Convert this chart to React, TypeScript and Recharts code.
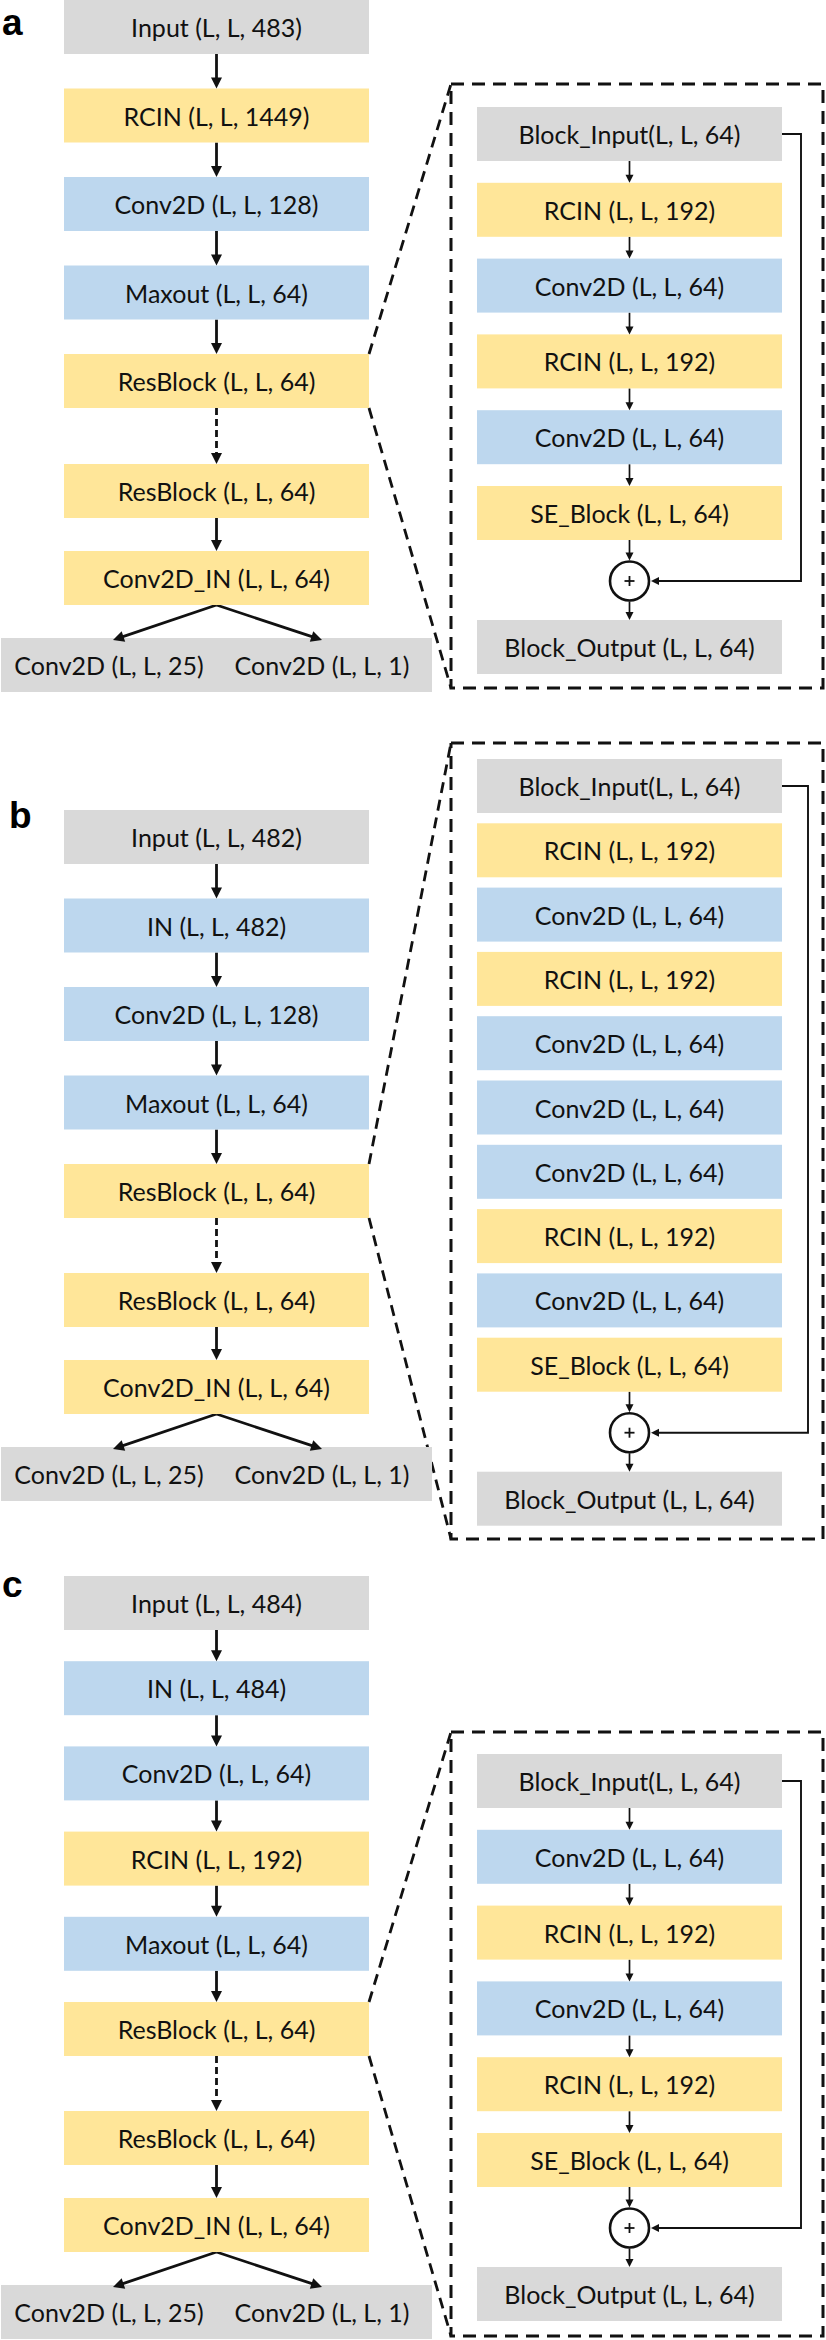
import { ComposedChart, XAxis, YAxis, Scatter, Line } from "recharts"

// layer labels, top to bottom
const panelNames = ["a", "b", "c"]

const trunkA = ["Input (L, L, 483)", "RCIN (L, L, 1449)", "Conv2D (L, L, 128)", "Maxout (L, L, 64)", "ResBlock (L, L, 64)", "ResBlock (L, L, 64)", "Conv2D_IN (L, L, 64)"]
const trunkB = ["Input (L, L, 482)", "IN (L, L, 482)", "Conv2D (L, L, 128)", "Maxout (L, L, 64)", "ResBlock (L, L, 64)", "ResBlock (L, L, 64)", "Conv2D_IN (L, L, 64)"]
const trunkC = ["Input (L, L, 484)", "IN (L, L, 484)", "Conv2D (L, L, 64)", "RCIN (L, L, 192)", "Maxout (L, L, 64)", "ResBlock (L, L, 64)", "ResBlock (L, L, 64)", "Conv2D_IN (L, L, 64)"]
const headLabels = ["Conv2D (L, L, 25)", "Conv2D (L, L, 1)"]

const blockA = ["Block_Input(L, L, 64)", "RCIN (L, L, 192)", "Conv2D (L, L, 64)", "RCIN (L, L, 192)", "Conv2D (L, L, 64)", "SE_Block (L, L, 64)"]
const blockB = ["Block_Input(L, L, 64)", "RCIN (L, L, 192)", "Conv2D (L, L, 64)", "RCIN (L, L, 192)", "Conv2D (L, L, 64)", "Conv2D (L, L, 64)", "Conv2D (L, L, 64)", "RCIN (L, L, 192)", "Conv2D (L, L, 64)", "SE_Block (L, L, 64)"]
const blockC = ["Block_Input(L, L, 64)", "Conv2D (L, L, 64)", "RCIN (L, L, 192)", "Conv2D (L, L, 64)", "RCIN (L, L, 192)", "SE_Block (L, L, 64)"]
const blockOutput = "Block_Output (L, L, 64)"

const trunks = [trunkA, trunkB, trunkC]
const blocks = [blockA, blockB, blockC]

// page layout (pixels)
const W = 826
const H = 2340
const BOX_W = 305
const BOX_H = 54
const TRUNK_X = 216.5
const INSET_X = 629.5
const FRAME_L = 451
const FRAME_R = 823

const layout = [
  { top: 0, pitch: 88.5, gap: 110, labelX: 2, labelY: 35, frameTop: 84, frameBottom: 688, blockTop: 107, blockPitch: 75.8, blockArrows: true, skipX: 801 },
  { top: 810, pitch: 88.5, gap: 109, labelX: 9, labelY: 828, frameTop: 743, frameBottom: 1539, blockTop: 759, blockPitch: 64.3, blockArrows: false, skipX: 808 },
  { top: 1576, pitch: 85.2, gap: 109, labelX: 2, labelY: 1597, frameTop: 1732, frameBottom: 2336, blockTop: 1754, blockPitch: 75.8, blockArrows: true, skipX: 801 },
]

const GREY = "#d9d9d9"
const YELLOW = "#ffe699"
const BLUE = "#bdd7ee"
const INK = "#111111"

const colorOf = (label: string) => {
  if (label.startsWith("Input") || label.startsWith("Block_")) return GREY
  if (/^(RCIN|ResBlock|Conv2D_IN|SE_Block)/.test(label)) return YELLOW
  return BLUE
}

type Pt = { x: number; y: number }
const boxes: any[] = []
const texts: any[] = []
const arrowHeads: any[] = []
const circles: any[] = []
const paths: { pts: Pt[]; width: number; dash?: string }[] = []

const arrow = (x1: number, y1: number, x2: number, y2: number, width: number, len: number, dash?: string) => {
  const d = Math.hypot(x2 - x1, y2 - y1)
  const ux = (x2 - x1) / d
  const uy = (y2 - y1) / d
  paths.push({ pts: [{ x: x1, y: y1 }, { x: x2 - ux * len * 0.6, y: y2 - uy * len * 0.6 }], width, dash })
  arrowHeads.push({ x: x2, y: y2, angle: (Math.atan2(uy, ux) * 180) / Math.PI, len, half: len / 2 })
}

trunks.forEach((trunk, p) => {
  const L = layout[p]
  const resIdx = trunk.indexOf("ResBlock (L, L, 64)")
  const tops: number[] = []
  trunk.forEach((label, i) => {
    if (i === 0) tops.push(L.top)
    else if (i - 1 < resIdx) tops.push(tops[i - 1] + L.pitch)
    else if (i - 1 === resIdx) tops.push(tops[i - 1] + L.gap)
    else tops.push(tops[i - 1] + 87)
    boxes.push({ x: TRUNK_X, y: tops[i] + BOX_H / 2, w: BOX_W, h: BOX_H, fill: colorOf(label), label })
  })
  for (let i = 0; i < trunk.length - 1; i++) {
    arrow(TRUNK_X, tops[i] + BOX_H, TRUNK_X, tops[i + 1], 2.8, 11, i === resIdx ? "7 4" : undefined)
  }
  const last = tops[tops.length - 1] + BOX_H
  const headTop = tops[tops.length - 1] + 87
  boxes.push({ x: 216.5, y: headTop + BOX_H / 2, w: 431, h: BOX_H, fill: GREY, label: "" })
  texts.push({ x: 109, y: headTop + BOX_H / 2, label: headLabels[0], kind: "layer" })
  texts.push({ x: 322, y: headTop + BOX_H / 2, label: headLabels[1], kind: "layer" })
  arrow(TRUNK_X, last, 113, headTop + 2, 2.8, 11)
  arrow(TRUNK_X, last, 322, headTop + 2, 2.8, 11)

  texts.push({ x: L.labelX, y: L.labelY, label: panelNames[p], kind: "panel" })

  // zoom-in frame for the residual block
  const resTop = tops[resIdx]
  paths.push({ pts: [{ x: 369, y: resTop }, { x: FRAME_L, y: L.frameTop }], width: 2.8, dash: "11 7" })
  paths.push({ pts: [{ x: 369, y: resTop + BOX_H }, { x: FRAME_L, y: L.frameBottom }], width: 2.8, dash: "11 7" })
  paths.push({
    pts: [
      { x: FRAME_L, y: L.frameTop }, { x: FRAME_R, y: L.frameTop }, { x: FRAME_R, y: L.frameBottom },
      { x: FRAME_L, y: L.frameBottom }, { x: FRAME_L, y: L.frameTop },
    ],
    width: 3,
    dash: "13 8",
  })

  const block = blocks[p]
  const bTops = block.map((_, i) => L.blockTop + i * L.blockPitch)
  block.forEach((label, i) => {
    boxes.push({ x: INSET_X, y: bTops[i] + BOX_H / 2, w: BOX_W, h: BOX_H, fill: colorOf(label), label })
    if (L.blockArrows && i > 0) arrow(INSET_X, bTops[i - 1] + BOX_H, INSET_X, bTops[i], 1.7, 8)
  })
  const bLast = bTops[bTops.length - 1] + BOX_H
  const cy = bLast + 41
  const outTop = bLast + 80
  circles.push({ x: INSET_X, y: cy })
  boxes.push({ x: INSET_X, y: outTop + BOX_H / 2, w: BOX_W, h: BOX_H, fill: GREY, label: blockOutput })
  arrow(INSET_X, bLast, INSET_X, cy - 20.5, 1.7, 8)
  arrow(INSET_X, cy + 20.5, INSET_X, outTop, 1.7, 8)
  const inCy = L.blockTop + BOX_H / 2
  paths.push({ pts: [{ x: 782, y: inCy }, { x: L.skipX, y: inCy }, { x: L.skipX, y: cy }, { x: 656, y: cy }], width: 1.9 })
  arrowHeads.push({ x: 651, y: cy, angle: 180, len: 8, half: 4 })
})

const BoxShape = (props: any) => {
  const { cx, cy, payload } = props
  return (
    <g>
      <rect x={cx - payload.w / 2} y={cy - payload.h / 2} width={payload.w} height={payload.h} fill={payload.fill} />
      {payload.label ? (
        <text x={cx} y={cy} textAnchor="middle" dominantBaseline="central" fontFamily="Lato" fontSize={25} fill={INK}>
          {payload.label}
        </text>
      ) : null}
    </g>
  )
}

const TextShape = (props: any) => {
  const { cx, cy, payload } = props
  if (payload.kind === "panel") {
    return (
      <text x={cx} y={cy} fontFamily="Liberation Sans" fontWeight="bold" fontSize={37} fill="#000">
        {payload.label}
      </text>
    )
  }
  return (
    <text x={cx} y={cy} textAnchor="middle" dominantBaseline="central" fontFamily="Lato" fontSize={25} fill={INK}>
      {payload.label}
    </text>
  )
}

const HeadShape = (props: any) => {
  const { cx, cy, payload } = props
  return (
    <polygon
      points={`0,0 ${-payload.len},${-payload.half} ${-payload.len},${payload.half}`}
      transform={`translate(${cx},${cy}) rotate(${payload.angle})`}
      fill={INK}
    />
  )
}

const SumShape = (props: any) => {
  const { cx, cy } = props
  return (
    <g>
      <circle cx={cx} cy={cy} r={19.5} fill="#fff" stroke={INK} strokeWidth={2.6} />
      <line x1={cx - 5} y1={cy} x2={cx + 5} y2={cy} stroke={INK} strokeWidth={1.8} />
      <line x1={cx} y1={cy - 5} x2={cx} y2={cy + 5} stroke={INK} strokeWidth={1.8} />
    </g>
  )
}

export default function App() {
  return (
    <div style={{ position: "absolute", left: 0, top: 0, width: W, height: H, background: "#fff" }}>
      <ComposedChart width={W} height={H} margin={{ top: 0, right: 0, bottom: 0, left: 0 }}>
        <XAxis type="number" dataKey="x" domain={[0, W]} allowDataOverflow hide height={0} />
        <YAxis type="number" dataKey="y" domain={[0, H]} allowDataOverflow reversed hide width={0} />
        <Scatter data={boxes} shape={BoxShape} isAnimationActive={false} />
        {paths.map((p, i) => (
          <Line
            key={`path-${i}`}
            data={p.pts}
            dataKey="y"
            type="linear"
            stroke={INK}
            strokeWidth={p.width}
            strokeDasharray={p.dash}
            dot={false}
            activeDot={false}
            isAnimationActive={false}
          />
        ))}
        <Scatter data={arrowHeads} shape={HeadShape} isAnimationActive={false} />
        <Scatter data={circles} shape={SumShape} isAnimationActive={false} />
        <Scatter data={texts} shape={TextShape} isAnimationActive={false} />
      </ComposedChart>
    </div>
  )
}
